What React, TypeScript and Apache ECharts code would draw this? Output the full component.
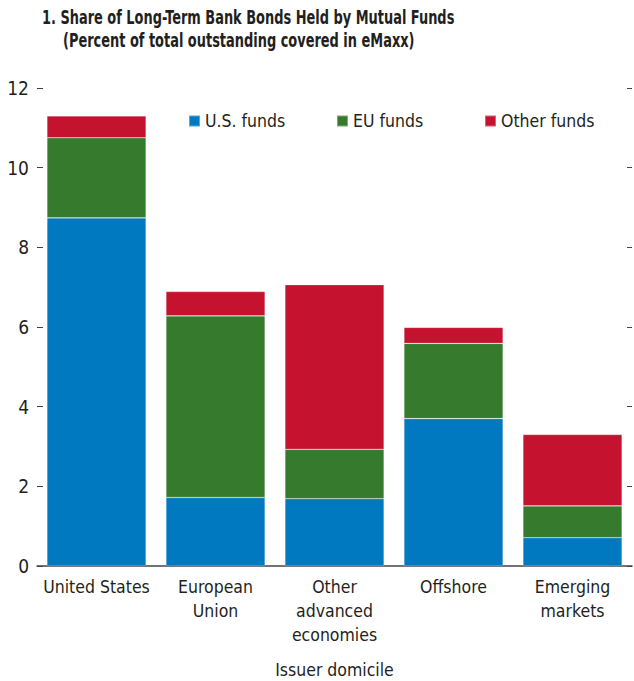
import React, { useEffect, useRef } from "react";
import * as echarts from "echarts";

const categories = ["United States", "European\nUnion", "Other\nadvanced\neconomies", "Offshore", "Emerging\nmarkets"];
const usFunds = [8.74, 1.72, 1.69, 3.70, 0.71];
const euFunds = [2.01, 4.56, 1.24, 1.89, 0.80];
const otherFunds = [0.55, 0.61, 4.13, 0.40, 1.79];
const seriesNames = ["U.S. funds", "EU funds", "Other funds"];
const colors = ["#0079C1", "#367B2D", "#C4122F"];
const titleLines = ["1. Share of Long-Term Bank Bonds Held by Mutual Funds", "(Percent of total outstanding covered in eMaxx)"];

const FONT = "'Liberation Sans Narrow', 'DejaVu Sans Condensed', 'Roboto Condensed', sans-serif";
const TXT = "#231F20";

export default function App() {
  const ref = useRef<HTMLDivElement>(null);
  useEffect(() => {
    if (!ref.current) return;
    const chart = echarts.init(ref.current, undefined, { renderer: "svg" });
    const dataSets = [usFunds, euFunds, otherFunds];
    chart.setOption({
      animation: false,
      textStyle: { fontFamily: FONT, color: TXT },
      graphic: [
        {
          type: "text",
          x: 42,
          y: 17.5,
          scaleX: 0.72,
          style: { text: titleLines[0], fontFamily: FONT, fontWeight: "bold", fontSize: 20, fill: TXT, textVerticalAlign: "middle" },
        },
        {
          type: "text",
          x: 63,
          y: 40.5,
          scaleX: 0.72,
          style: { text: titleLines[1], fontFamily: FONT, fontWeight: "bold", fontSize: 20, fill: TXT, textVerticalAlign: "middle" },
        },
      ],
      legend: seriesNames.map((n, i) => ({
        data: [n],
        left: 188 + i * 148,
        top: 112,
        padding: 0,
        itemWidth: 11,
        itemHeight: 11,
        itemGap: 5,
        icon: "rect",
        selectedMode: false,
        textStyle: { fontFamily: FONT, fontSize: 17.5, color: TXT },
      })),
      grid: { left: 37, right: 2, top: 88, bottom: 115, containLabel: false, outerBoundsMode: "none" },
      xAxis: {
        type: "category",
        data: categories,
        name: "Issuer domicile",
        nameLocation: "middle",
        nameGap: 95,
        nameTextStyle: { fontFamily: FONT, fontSize: 17.5, color: TXT },
        axisLine: { lineStyle: { color: "#444", width: 1.5 } },
        axisTick: { inside: true, length: 12, lineStyle: { color: "#444", width: 1.5 } },
        axisLabel: { fontFamily: FONT, fontSize: 17.5, color: TXT, margin: 9, lineHeight: 24, interval: 0 },
      },
      yAxis: [
        {
          type: "value",
          min: 0,
          max: 12,
          interval: 2,
          splitLine: { show: false },
          axisLine: { show: false },
          axisTick: { show: true, inside: true, length: 6, lineStyle: { color: "#444" } },
          axisLabel: { fontFamily: FONT, fontSize: 19, color: TXT, margin: 8 },
        },
        {
          type: "value",
          position: "right",
          min: 0,
          max: 12,
          interval: 2,
          splitLine: { show: false },
          axisLine: { show: false },
          axisTick: { show: true, inside: true, length: 5, lineStyle: { color: "#444" } },
          axisLabel: { show: false },
        },
      ],
      series: seriesNames.map((n, i) => ({
        name: n,
        type: "bar",
        stack: "total",
        data: dataSets[i],
        barCategoryGap: "16.7%",
        itemStyle: { color: colors[i], borderColor: "rgba(255,255,255,0.35)", borderWidth: 0.6 },
      })),
    });
    return () => chart.dispose();
  }, []);
  return <div ref={ref} style={{ width: 634, height: 681, position: "absolute", left: 0, top: 0 }} />;
}
